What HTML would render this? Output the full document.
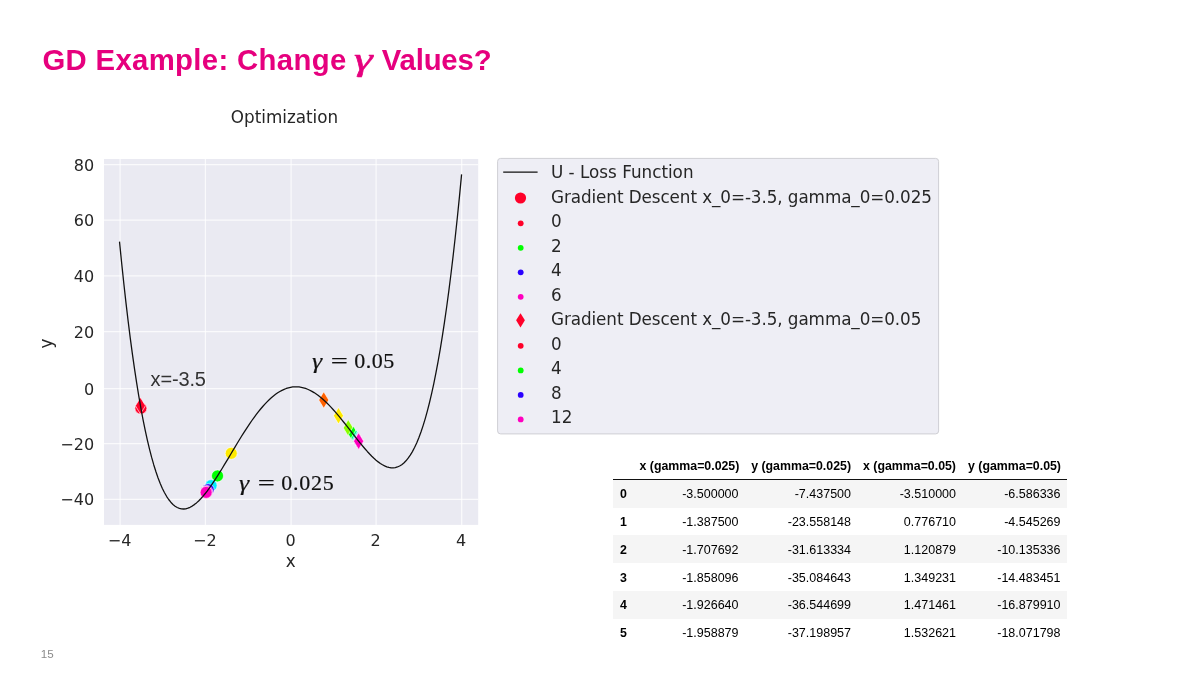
<!DOCTYPE html>
<html lang="en"><head><meta charset="utf-8"><title>GD Example: Change γ Values?</title>
<style>
html,body{margin:0;padding:0;background:#fff}
body{width:1200px;height:675px;position:relative;overflow:hidden;font-family:"Liberation Sans",sans-serif}
h1{position:absolute;left:42.4px;top:42.7px;margin:0;font:bold 29.3px/33px "Liberation Sans",sans-serif;color:#e6007e;white-space:nowrap;letter-spacing:0.35px}
h1 i{font-family:"Liberation Serif",serif;font-style:italic;font-weight:normal;-webkit-text-stroke:0.5px #e6007e;font-size:31.5px;line-height:20px;letter-spacing:0;display:inline-block;transform:scaleX(1.5);margin:0 3.85px 0 1.85px}
h1 span{letter-spacing:-0.15px}
svg.chart{position:absolute;left:0;top:0}
svg.chart text{font-family:"DejaVu Sans",sans-serif;fill:#262626}
.ann{position:absolute;white-space:nowrap;color:#111;margin:0}
.a1{left:150.6px;top:368.1px;font:20px/22px "Liberation Sans",sans-serif;color:#333;letter-spacing:-0.15px}
.g{font:22px/24px "Liberation Serif",serif;letter-spacing:0.25px;-webkit-text-stroke:0.2px #111}
.g i{font-style:italic;letter-spacing:0;display:inline-block;transform:scaleX(1.2);transform-origin:0 50%;font-size:21.5px}
.eq{display:inline-block;width:12px;text-align:center;transform:scaleX(1.38);margin:0 9.3px 0 12.4px;letter-spacing:0}
.a2{left:312px;top:348.7px;letter-spacing:0.5px}
.a3{left:239px;top:470.8px;letter-spacing:0.8px}
table{position:absolute;left:613px;top:451px;width:453.5px;border-collapse:collapse;font:12.5px/16px "Liberation Sans",sans-serif;color:#000;table-layout:fixed}
th,td{padding:7.5px 6px 4.5px;text-align:right;height:15.8px;line-height:15.8px;white-space:nowrap}
thead th{font-weight:bold;font-size:12.35px;border-bottom:1px solid #111;padding-top:7.9px;padding-bottom:4.1px}
tbody th{font-weight:bold;font-size:12.35px;text-align:left;padding-left:7px}
tbody tr:nth-child(odd){background:#f5f5f5}
.pn{position:absolute;left:40.7px;top:648px;font:11.6px/11px "Liberation Sans",sans-serif;color:#8a8a8a}
</style></head>
<body>
<h1>GD Example: Change <i>γ</i> <span>Values?</span></h1>
<svg class="chart" width="1200" height="675" viewBox="0 0 1200 675">
<rect x="104.0" y="159.0" width="374.2" height="365.9" fill="#eaeaf2"/>
<line x1="120.10" x2="120.10" y1="159.0" y2="524.9" stroke="#fff" stroke-width="1.25" stroke-opacity="0.75"/>
<line x1="205.40" x2="205.40" y1="159.0" y2="524.9" stroke="#fff" stroke-width="1.25" stroke-opacity="0.75"/>
<line x1="291.10" x2="291.10" y1="159.0" y2="524.9" stroke="#fff" stroke-width="1.25" stroke-opacity="0.75"/>
<line x1="376.10" x2="376.10" y1="159.0" y2="524.9" stroke="#fff" stroke-width="1.25" stroke-opacity="0.75"/>
<line x1="461.70" x2="461.70" y1="159.0" y2="524.9" stroke="#fff" stroke-width="1.25" stroke-opacity="0.75"/>
<line y1="499.30" y2="499.30" x1="104.0" x2="478.2" stroke="#fff" stroke-width="1.25" stroke-opacity="0.75"/>
<line y1="443.50" y2="443.50" x1="104.0" x2="478.2" stroke="#fff" stroke-width="1.25" stroke-opacity="0.75"/>
<line y1="388.50" y2="388.50" x1="104.0" x2="478.2" stroke="#fff" stroke-width="1.25" stroke-opacity="0.75"/>
<line y1="331.50" y2="331.50" x1="104.0" x2="478.2" stroke="#fff" stroke-width="1.25" stroke-opacity="0.75"/>
<line y1="275.80" y2="275.80" x1="104.0" x2="478.2" stroke="#fff" stroke-width="1.25" stroke-opacity="0.75"/>
<line y1="220.20" y2="220.20" x1="104.0" x2="478.2" stroke="#fff" stroke-width="1.25" stroke-opacity="0.75"/>
<line y1="164.50" y2="164.50" x1="104.0" x2="478.2" stroke="#fff" stroke-width="1.25" stroke-opacity="0.75"/>
<circle cx="140.89" cy="408.14" r="6.0" fill="#ff0029" stroke="#fff" stroke-width="0.75" stroke-opacity="0.85"/>
<circle cx="231.22" cy="453.31" r="6.0" fill="#ffea00" stroke="#fff" stroke-width="0.75" stroke-opacity="0.85"/>
<circle cx="217.53" cy="475.88" r="6.0" fill="#00ff00" stroke="#fff" stroke-width="0.75" stroke-opacity="0.85"/>
<circle cx="211.10" cy="485.61" r="6.0" fill="#00ecff" stroke="#fff" stroke-width="0.75" stroke-opacity="0.85"/>
<circle cx="208.17" cy="489.70" r="6.0" fill="#2a00ff" stroke="#fff" stroke-width="0.75" stroke-opacity="0.85"/>
<circle cx="206.79" cy="491.53" r="6.0" fill="#ff00bf" stroke="#fff" stroke-width="0.75" stroke-opacity="0.85"/>
<circle cx="206.12" cy="492.39" r="6.0" fill="#ff00bf" stroke="#fff" stroke-width="0.75" stroke-opacity="0.85"/>
<path d="M140.46 397.45L145.46 405.75L140.46 414.05L135.46 405.75Z" fill="#ff0029" stroke="#fff" stroke-width="0.75" stroke-opacity="0.85"/>
<path d="M323.76 391.74L328.76 400.04L323.76 408.34L318.76 400.04Z" fill="#ff6000" stroke="#fff" stroke-width="0.75" stroke-opacity="0.85"/>
<path d="M338.48 407.40L343.48 415.70L338.48 424.00L333.48 415.70Z" fill="#ffea00" stroke="#fff" stroke-width="0.75" stroke-opacity="0.85"/>
<path d="M348.24 419.58L353.24 427.88L348.24 436.18L343.24 427.88Z" fill="#8aff00" stroke="#fff" stroke-width="0.75" stroke-opacity="0.85"/>
<path d="M353.47 426.30L358.47 434.60L353.47 442.90L348.47 434.60Z" fill="#00ff00" stroke="#fff" stroke-width="0.75" stroke-opacity="0.85"/>
<path d="M356.08 429.64L361.08 437.94L356.08 446.24L351.08 437.94Z" fill="#00ff89" stroke="#fff" stroke-width="0.75" stroke-opacity="0.85"/>
<path d="M357.38 431.28L362.38 439.58L357.38 447.88L352.38 439.58Z" fill="#00ecff" stroke="#fff" stroke-width="0.75" stroke-opacity="0.85"/>
<path d="M358.02 432.08L363.02 440.38L358.02 448.68L353.02 440.38Z" fill="#0061ff" stroke="#fff" stroke-width="0.75" stroke-opacity="0.85"/>
<path d="M358.34 432.49L363.34 440.79L358.34 449.09L353.34 440.79Z" fill="#2a00ff" stroke="#fff" stroke-width="0.75" stroke-opacity="0.85"/>
<path d="M358.50 432.69L363.50 440.99L358.50 449.29L353.50 440.99Z" fill="#b400ff" stroke="#fff" stroke-width="0.75" stroke-opacity="0.85"/>
<path d="M358.58 432.79L363.58 441.09L358.58 449.39L353.58 441.09Z" fill="#ff00bf" stroke="#fff" stroke-width="0.75" stroke-opacity="0.85"/>
<path d="M358.62 432.83L363.62 441.13L358.62 449.43L353.62 441.13Z" fill="#ff00bf" stroke="#fff" stroke-width="0.75" stroke-opacity="0.85"/>
<path d="M358.64 432.86L363.64 441.16L358.64 449.46L353.64 441.16Z" fill="#ff00bf" stroke="#fff" stroke-width="0.75" stroke-opacity="0.85"/>
<path d="M119.51 241.60L121.65 263.01L123.79 283.28L125.92 302.44L128.06 320.52L130.20 337.55L132.34 353.57L134.48 368.61L136.61 382.70L138.75 395.87L140.89 408.14L143.03 419.55L145.17 430.13L147.30 439.91L149.44 448.91L151.58 457.16L153.72 464.70L155.86 471.54L157.99 477.71L160.13 483.25L162.27 488.17L164.41 492.51L166.55 496.28L168.68 499.51L170.82 502.22L172.96 504.45L175.10 506.21L177.24 507.52L179.37 508.41L181.51 508.90L183.65 509.01L185.79 508.77L187.93 508.19L190.06 507.29L192.20 506.09L194.34 504.62L196.48 502.89L198.62 500.93L200.75 498.74L202.89 496.35L205.03 493.78L207.17 491.03L209.31 488.14L211.44 485.11L213.58 481.96L215.72 478.70L217.86 475.36L220.00 471.94L222.13 468.46L224.27 464.94L226.41 461.38L228.55 457.80L230.69 454.21L232.82 450.62L234.96 447.05L237.10 443.50L239.24 440.00L241.38 436.53L243.51 433.13L245.65 429.79L247.79 426.53L249.93 423.35L252.07 420.26L254.20 417.28L256.34 414.40L258.48 411.63L260.62 408.99L262.76 406.47L264.89 404.09L267.03 401.84L269.17 399.73L271.31 397.78L273.45 395.97L275.58 394.32L277.72 392.83L279.86 391.49L282.00 390.32L284.14 389.32L286.27 388.48L288.41 387.80L290.55 387.30L292.69 386.96L294.83 386.80L296.96 386.79L299.10 386.96L301.24 387.29L303.38 387.78L305.52 388.43L307.65 389.25L309.79 390.21L311.93 391.33L314.07 392.59L316.21 394.00L318.34 395.54L320.48 397.22L322.62 399.02L324.76 400.95L326.90 402.99L329.03 405.13L331.17 407.38L333.31 409.72L335.45 412.14L337.59 414.64L339.72 417.20L341.86 419.82L344.00 422.49L346.14 425.19L348.28 427.92L350.41 430.67L352.55 433.42L354.69 436.16L356.83 438.88L358.97 441.56L361.10 444.20L363.24 446.78L365.38 449.28L367.52 451.70L369.66 454.01L371.79 456.20L373.93 458.25L376.07 460.15L378.21 461.89L380.35 463.44L382.48 464.78L384.62 465.91L386.76 466.80L388.90 467.43L391.04 467.78L393.17 467.84L395.31 467.58L397.45 466.98L399.59 466.03L401.73 464.70L403.86 462.97L406.00 460.81L408.14 458.21L410.28 455.15L412.42 451.59L414.55 447.52L416.69 442.91L418.83 437.74L420.97 431.97L423.11 425.60L425.24 418.58L427.38 410.90L429.52 402.52L431.66 393.43L433.80 383.59L435.93 372.97L438.07 361.55L440.21 349.30L442.35 336.18L444.49 322.18L446.62 307.25L448.76 291.37L450.90 274.51L453.04 256.63L455.18 237.71L457.31 217.71L459.45 196.60L461.59 174.35" fill="none" stroke="#111" stroke-width="1.28" stroke-linejoin="round"/>
<text x="119.60" y="546.0" text-anchor="middle" font-size="16">−4</text>
<text x="204.90" y="546.0" text-anchor="middle" font-size="16">−2</text>
<text x="290.60" y="546.0" text-anchor="middle" font-size="16">0</text>
<text x="375.60" y="546.0" text-anchor="middle" font-size="16">2</text>
<text x="461.20" y="546.0" text-anchor="middle" font-size="16">4</text>
<text x="94.1" y="505.40" text-anchor="end" font-size="16">−40</text>
<text x="94.1" y="449.60" text-anchor="end" font-size="16">−20</text>
<text x="94.1" y="394.60" text-anchor="end" font-size="16">0</text>
<text x="94.1" y="337.60" text-anchor="end" font-size="16">20</text>
<text x="94.1" y="281.90" text-anchor="end" font-size="16">40</text>
<text x="94.1" y="226.30" text-anchor="end" font-size="16">60</text>
<text x="94.1" y="170.60" text-anchor="end" font-size="16">80</text>
<text x="290.8" y="566.5" text-anchor="middle" font-size="16.8">x</text>
<text transform="translate(51.7 343.6) rotate(-90)" text-anchor="middle" font-size="16.8">y</text>
<text x="284.5" y="123.2" text-anchor="middle" font-size="16.8">Optimization</text>
<rect x="497.6" y="158.4" width="441" height="275.5" rx="3" ry="3" fill="#eeeef5" stroke="#cfcfd4" stroke-width="1"/>
<line x1="503.2" x2="537.6" y1="172.10" y2="172.10" stroke="#111" stroke-width="1.35"/>
<text x="551" y="178.30" font-size="16.8">U - Loss Function</text>
<circle cx="520.5" cy="198.01" r="5.6" fill="#ff0029"/>
<text x="551" y="202.81" font-size="16.8" letter-spacing="-0.078">Gradient Descent x_0=-3.5, gamma_0=0.025</text>
<circle cx="520.7" cy="223.32" r="2.9" fill="#ff0029"/>
<text x="551" y="227.32" font-size="16.8">0</text>
<circle cx="520.7" cy="247.83" r="2.9" fill="#00ff00"/>
<text x="551" y="251.83" font-size="16.8">2</text>
<circle cx="520.7" cy="272.34" r="2.9" fill="#2a00ff"/>
<text x="551" y="276.34" font-size="16.8">4</text>
<circle cx="520.7" cy="296.85" r="2.9" fill="#ff00bf"/>
<text x="551" y="300.85" font-size="16.8">6</text>
<path d="M520.5 313.16L524.9 320.36L520.5 327.56L516.1 320.36Z" fill="#ff0029"/>
<text x="551" y="325.36" font-size="16.8" letter-spacing="-0.078">Gradient Descent x_0=-3.5, gamma_0=0.05</text>
<circle cx="520.7" cy="345.87" r="2.9" fill="#ff0029"/>
<text x="551" y="349.87" font-size="16.8">0</text>
<circle cx="520.7" cy="370.38" r="2.9" fill="#00ff00"/>
<text x="551" y="374.38" font-size="16.8">4</text>
<circle cx="520.7" cy="394.89" r="2.9" fill="#2a00ff"/>
<text x="551" y="398.89" font-size="16.8">8</text>
<circle cx="520.7" cy="419.40" r="2.9" fill="#ff00bf"/>
<text x="551" y="423.40" font-size="16.8">12</text>
</svg>
<p class="ann a1">x=-3.5</p>
<p class="ann g a2"><i>γ</i><span class="eq">=</span>0.05</p>
<p class="ann g a3"><i>γ</i><span class="eq">=</span>0.025</p>
<table><colgroup><col style="width:20.5px"><col style="width:111px"><col style="width:112.5px"><col style="width:105px"><col style="width:104.5px"></colgroup><thead><tr><th></th><th>x (gamma=0.025)</th><th>y (gamma=0.025)</th><th>x (gamma=0.05)</th><th>y (gamma=0.05)</th></tr></thead>
<tbody>
<tr><th>0</th><td>-3.500000</td><td>-7.437500</td><td>-3.510000</td><td>-6.586336</td></tr>
<tr><th>1</th><td>-1.387500</td><td>-23.558148</td><td>0.776710</td><td>-4.545269</td></tr>
<tr><th>2</th><td>-1.707692</td><td>-31.613334</td><td>1.120879</td><td>-10.135336</td></tr>
<tr><th>3</th><td>-1.858096</td><td>-35.084643</td><td>1.349231</td><td>-14.483451</td></tr>
<tr><th>4</th><td>-1.926640</td><td>-36.544699</td><td>1.471461</td><td>-16.879910</td></tr>
<tr><th>5</th><td>-1.958879</td><td>-37.198957</td><td>1.532621</td><td>-18.071798</td></tr>
</tbody></table>
<div class="pn">15</div>
</body></html>
